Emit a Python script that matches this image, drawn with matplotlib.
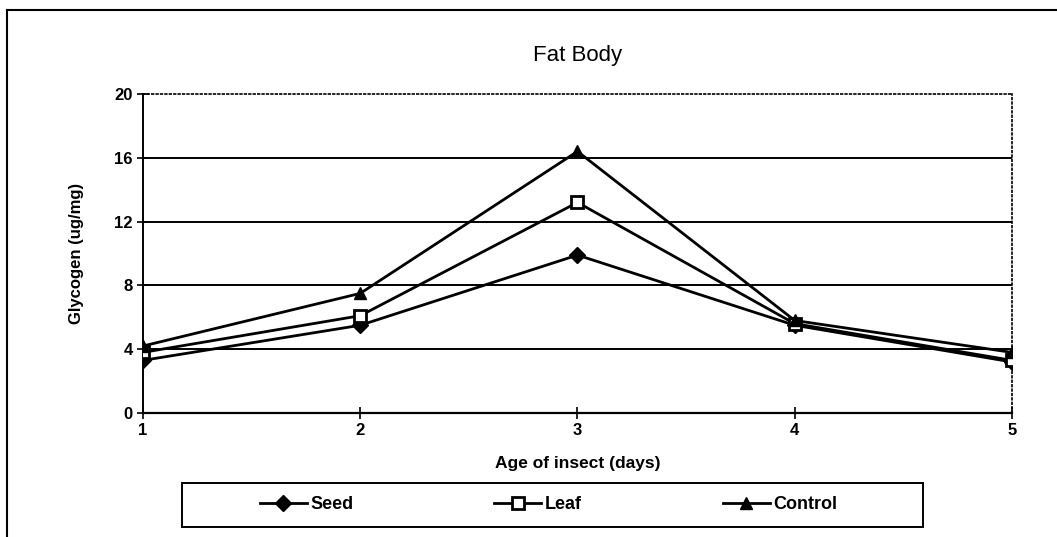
import matplotlib.pyplot as plt
from matplotlib.lines import Line2D
from matplotlib.patches import Rectangle

plt.rcParams['font.family'] = ['Liberation Sans', 'DejaVu Sans']

# data
days = [1, 2, 3, 4, 5]
seed = [3.3, 5.5, 9.9, 5.5, 3.2]
leaf = [3.8, 6.1, 13.2, 5.6, 3.3]
control = [4.2, 7.5, 16.4, 5.8, 3.8]
yticks = [0, 4, 8, 12, 16, 20]

fig = plt.figure(figsize=(10.57, 5.37), dpi=100)
ax = fig.add_axes([0.1353, 0.2309, 0.8221, 0.5941])

# horizontal gridlines
for v in yticks[1:-1]:
    ax.axhline(v, color='black', lw=1.4, zorder=1)

ax.plot(days, seed, color='black', lw=2, marker='D', ms=8, mfc='black', mec='black',
        label='Seed', zorder=3)
ax.plot(days, leaf, color='black', lw=2, marker='s', ms=8, mfc='white', mec='black',
        mew=2, label='Leaf', zorder=3)
ax.plot(days, control, color='black', lw=2, marker='^', ms=9, mfc='black', mec='black',
        label='Control', zorder=3)

ax.set_xlim(1, 5)
ax.set_ylim(0, 20)
ax.set_xticks(days)
ax.set_yticks(yticks)
ax.tick_params(axis='both', direction='inout', length=8, width=1.2, labelsize=12)
for lab in ax.get_xticklabels() + ax.get_yticklabels():
    lab.set_fontweight('bold')

ax.spines['left'].set_linewidth(1.4)
ax.spines['bottom'].set_linewidth(1.6)
ax.spines['top'].set_linestyle(':')
ax.spines['top'].set_linewidth(1.2)
ax.spines['right'].set_linestyle(':')
ax.spines['right'].set_linewidth(1.2)

ax.set_title('Fat Body', fontsize=16, pad=24)
ax.set_xlabel('Age of insect (days)', fontsize=12.5, fontweight='bold')
ax.xaxis.set_label_coords(0.5, -0.135)
ax.set_ylabel('Glycogen (ug/mg)', fontsize=12, fontweight='bold')
ax.yaxis.set_label_coords(-0.068, 0.5)

# legend entries without frame, frame box drawn separately
leg = fig.legend(loc='center', bbox_to_anchor=(0.519, 0.0596), ncol=3, frameon=False,
                 prop={'weight': 'bold', 'size': 13},
                 columnspacing=7.8, handlelength=2.6, handletextpad=0.2, borderaxespad=0)
fig.add_artist(Rectangle((182 / 1057, 1 - 527 / 537), 741 / 1057, 44 / 537, fill=False,
                         edgecolor='black', lw=1.4, transform=fig.transFigure))

# outer frame of the chart area
fig.add_artist(Line2D([0.0066, 0.0066], [0, 0.982], color='black', lw=1.5, transform=fig.transFigure))
fig.add_artist(Line2D([0.0066, 1.0], [0.982, 0.982], color='black', lw=1.5, transform=fig.transFigure))

fig.savefig('out.png', dpi=100)
